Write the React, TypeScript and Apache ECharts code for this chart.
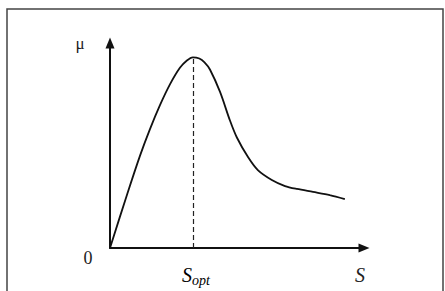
import React, { useEffect, useRef } from "react";
import * as echarts from "echarts";

const sValues = [0, 6.6, 11.6, 15.4, 19.3, 23.2, 27.0, 29.7, 32.0, 34.5, 36.5, 38.6, 42.5, 46.3, 49.0, 53.3, 57.1, 62.5, 67.6, 72.2, 78.4, 84.9, 90.7];
const muValues = [0, 25.5, 44.0, 56.5, 68.0, 78.0, 85.8, 89.3, 90.8, 90.2, 88.4, 85.0, 74.3, 60.8, 52.6, 43.3, 37.1, 32.4, 29.5, 28.1, 26.7, 25.2, 23.3];
const sOpt = 32.0;
const muMax = 90.8;
const labels = { mu: "μ", zero: "0", s: "S", sOptMain: "S", sOptSub: "opt" };

export default function App() {
  const ref = useRef<HTMLDivElement>(null);
  useEffect(() => {
    if (!ref.current) return;
    const chart = echarts.init(ref.current, null, { renderer: "svg" });
    const ff = "Liberation Serif";
    chart.setOption({
      animation: false,
      backgroundColor: "#fff",
      grid: { left: 110, top: 43, right: 81, bottom: 43 },
      xAxis: {
        type: "value",
        min: 0,
        max: 98.1,
        axisLine: { show: true, symbol: ["none", "triangle"], symbolSize: [9, 11], lineStyle: { color: "#111", width: 2 } },
        axisTick: { show: false },
        axisLabel: { show: false },
        splitLine: { show: false },
      },
      yAxis: {
        type: "value",
        min: 0,
        max: 97.6,
        axisLine: { show: true, symbol: ["none", "triangle"], symbolSize: [9, 11], lineStyle: { color: "#111", width: 2 } },
        axisTick: { show: false },
        axisLabel: { show: false },
        splitLine: { show: false },
      },
      series: [
        {
          type: "line",
          data: sValues.map((s, i) => [s, muValues[i]]),
          smooth: 0.3,
          showSymbol: false,
          lineStyle: { color: "#111", width: 1.8 },
          markLine: {
            silent: true,
            symbol: ["none", "none"],
            label: { show: false },
            lineStyle: { color: "#222", type: [5, 3], width: 1.2 },
            data: [[{ coord: [sOpt, 0] }, { coord: [sOpt, muMax] }]],
          },
        },
      ],
      graphic: [
        {
          type: "rect",
          shape: { x: 7, y: 9, width: 436, height: 300 },
          style: { fill: "none", stroke: "#444", lineWidth: 1.5 },
          silent: true,
        },
        {
          type: "text",
          x: 80,
          y: 43,
          style: { text: labels.mu, fontFamily: ff, fontSize: 17, fill: "#222", align: "center", verticalAlign: "middle" },
        },
        {
          type: "text",
          x: 88,
          y: 258,
          style: { text: labels.zero, fontFamily: ff, fontSize: 18, fill: "#222", align: "center", verticalAlign: "middle" },
        },
        {
          type: "text",
          x: 360,
          y: 275,
          style: { text: labels.s, fontFamily: ff, fontStyle: "italic", fontSize: 20, fill: "#222", align: "center", verticalAlign: "middle" },
        },
        {
          type: "text",
          x: 182,
          y: 264,
          style: {
            text: `{a|${labels.sOptMain}}{b|${labels.sOptSub}}`,
            align: "left",
            verticalAlign: "top",
            rich: {
              a: { fontFamily: ff, fontStyle: "italic", fontSize: 20, color: "#222", lineHeight: 22 },
              b: { fontFamily: ff, fontStyle: "italic", fontSize: 14, color: "#222", padding: [10, 0, 0, 0], lineHeight: 22 },
            },
          },
        },
      ],
    });
    return () => chart.dispose();
  }, []);
  return <div ref={ref} style={{ position: "absolute", left: 0, top: 0, width: 445, height: 291 }} />;
}
